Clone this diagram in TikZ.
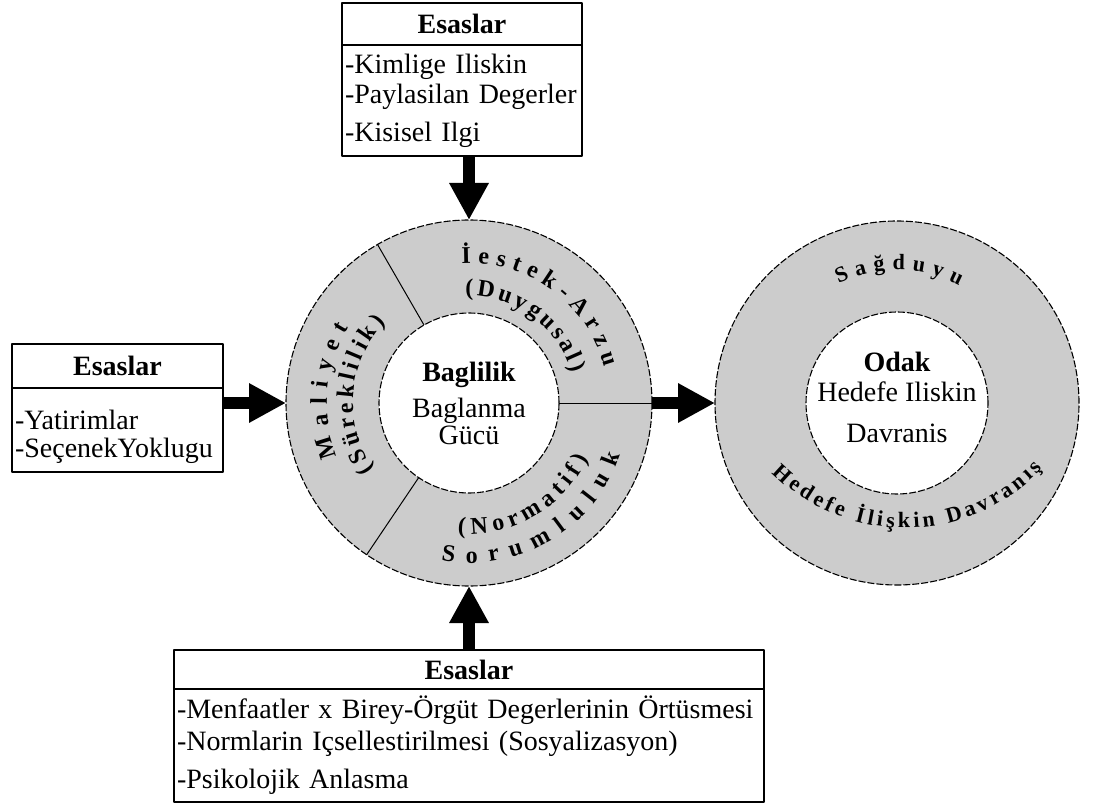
\documentclass[tikz,border=0pt]{standalone}
\usepackage{fontspec}
\setmainfont{Liberation Serif}
\usetikzlibrary{arrows.meta,decorations.text,positioning}
\definecolor{halkagri}{gray}{0.8}
\newcommand{\halkayazi}{\bfseries\fontsize{24}{24}\selectfont}
\newcommand{\odakyazi}{\bfseries\fontsize{22}{22}\selectfont}

\begin{document}
\begin{tikzpicture}[
    x={(1pt,0pt)},
    y={(0pt,1pt)},
    line join=round,
    baslik/.style={draw, line width=1.3pt, inner sep=0pt, outer sep=0pt,
      font=\bfseries\fontsize{28}{30}\selectfont},
    govde/.style={draw, line width=1.3pt, inner xsep=3pt, inner ysep=0pt,
      outer sep=0pt, align=left, text width=#1,
      font=\fontsize{28}{30}\selectfont},
    halka/.style={circle, draw, fill=halkagri, line width=1.1pt,
      dash pattern=on 7pt off 2pt, inner sep=0pt, outer sep=0pt},
    icdaire/.style={halka, fill=white},
    merkez/.style={align=center, font=\fontsize{28}{30}\selectfont},
    kalinok/.style={line width=12.5pt, -{Triangle[length=37pt,width=37pt]}},
    egri/.style={decorate, decoration={text along path,
      text align={fit to path}, text={#1}}}
  ]

  \useasboundingbox (0,0) rectangle (1094,807);

  % kutular
  \node[baslik, minimum width=240pt, minimum height=42pt] (ustbas) at (462,783) {Esaslar};
  \node[govde=234pt, minimum height=111pt, below=0pt of ustbas] (ustgov)
    {-Kimlige Iliskin\\-Paylasilan Degerler\\[8pt]-Kisisel Ilgi};
  %
  \node[baslik, minimum width=211pt, minimum height=44pt] (solbas) at (117.5,441) {Esaslar};
  \node[govde=205pt, minimum height=84pt, below=0pt of solbas] (solgov)
    {\rule{0pt}{33pt}-Yatirimlar\\[-2pt]-SeçenekYoklugu};
  %
  \node[baslik, minimum width=590pt, minimum height=39pt] (altbas) at (469,137.5) {Esaslar};
  \node[govde=584pt, minimum height=113pt, below=0pt of altbas] (altgov)
    {-Menfaatler x Birey-Örgüt Degerlerinin Örtüsmesi\\[2pt]-Normlarin Içsellestirilmesi (Sosyalizasyon)\\[8pt]-Psikolojik Anlasma};

  % daireler
  \node[halka, minimum size=366pt] (bagdis) at (469,404) {};
  \node[icdaire, minimum size=180pt] (bagic) at (bagdis.center) {};
  \foreach \a in {120,-124,0}
    \draw[line width=1pt] (bagic.\a) -- (bagdis.\a);
  \node[merkez] (bagmetin) at (bagic.center)
    {\textbf{Baglilik}\\[6pt]Baglanma\\[-3pt]Gücü};
  %
  \node[halka, minimum size=364pt] (odakdis) at (897,404) {};
  \node[icdaire, minimum size=182pt] (odakic) at (odakdis.center) {};
  \node[merkez, yshift=6pt] (odakmetin) at (odakic.center)
    {\textbf{Odak}\\Hedefe Iliskin\\[11pt]Davranis};

  % halka yazilari
  \path[egri={|\halkayazi|İestek-Arzu}]
    (bagdis.center) ++(93:140pt) arc[start angle=93, end angle=15, radius=140pt];
  \path[egri={|\halkayazi|(Duygusal)}]
    (bagdis.center) ++(92:107pt) arc[start angle=92, end angle=16, radius=107pt];
  \path[egri={|\halkayazi|Maliyet}]
    (bagdis.center) ++(202:142pt) arc[start angle=202, end angle=148, radius=142pt];
  \path[egri={|\halkayazi|(Süreklilik)}]
    (bagdis.center) ++(215:116pt) arc[start angle=215, end angle=136, radius=116pt];
  \path[egri={|\halkayazi|(Normatif)}]
    (bagdis.center) ++(-95:131pt) arc[start angle=-95, end angle=-25, radius=131pt];
  \path[egri={|\halkayazi|Sorumluluk}]
    (bagdis.center) ++(-100:160pt) arc[start angle=-100, end angle=-19, radius=160pt];
  \path[egri={|\odakyazi|Sağduyu}]
    (odakdis.center) ++(116:133pt) arc[start angle=116, end angle=62, radius=133pt];
  \path[egri={|\odakyazi|Hedefe İlişkin Davranış}]
    (905,467) ++(-135:188pt) arc[start angle=-135, end angle=-43, radius=188pt];

  % oklar
  \draw[kalinok] (ustgov.south -| bagdis.north) -- (bagdis.north);
  \draw[kalinok] (solgov.east |- bagdis.west) -- (bagdis.west);
  \draw[kalinok] (altbas.north -| bagdis.south) -- (bagdis.south);
  \draw[kalinok] (bagdis.east) -- (odakdis.west);
\end{tikzpicture}
\end{document}
